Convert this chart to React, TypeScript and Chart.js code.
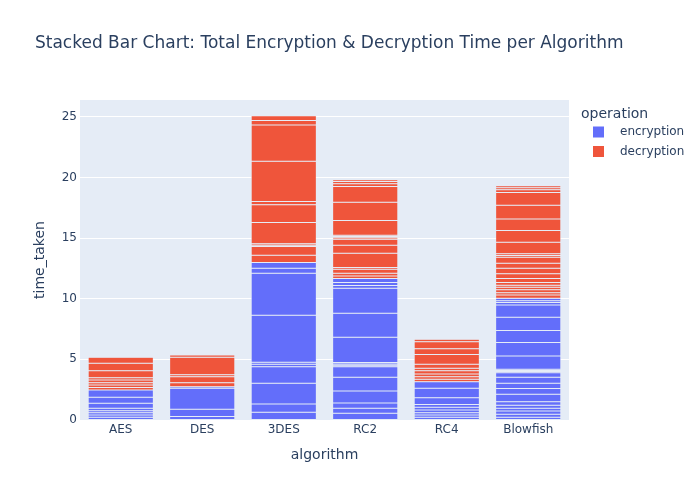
import React, { useEffect, useRef } from "react";
import { Chart, registerables } from "chart.js";

Chart.register(...registerables);

const algorithms = ["AES", "DES", "3DES", "RC2", "RC4", "Blowfish"];
const operations = ["encryption", "decryption"];
const yTicks = [0, 5, 10, 15, 20, 25];

// encryption time segments (stacked records) per algorithm
const encAES = [0.22, 0.19, 0.19, 0.17, 0.19, 0.42, 0.49, 0.61];
const encDES = [0.28, 0.6, 1.73, 0.14];
const enc3DES = [0.63, 0.69, 1.71, 1.37, 0.19, 0.17, 3.87, 3.47, 0.41, 0.47];
const encRC2 = [0.55, 0.41, 0.44, 0.99, 1.13, 0.88, 0.11, 0.11, 0.11, 2.09, 1.98, 2.07, 0.21, 0.25, 0.33];
const encRC4 = [0.22, 0.19, 0.19, 0.23, 0.22, 0.22, 0.57, 0.78, 0.54];
const encBlowfish = [0.22, 0.25, 0.27, 0.22, 0.25, 0.3, 0.61, 0.47, 0.44, 0.49, 0.38, 0.09, 0.1, 0.09, 1.1, 1.1, 0.99, 1.1, 1.02, 0.19, 0.16, 0.2];

// decryption time segments per algorithm
const decAES = [0.19, 0.22, 0.19, 0.22, 0.19, 0.58, 0.61, 0.49];
const decDES = [0.33, 0.49, 0.17, 1.43, 0.19];
const dec3DES = [0.61, 0.71, 0.11, 0.11, 1.76, 1.46, 0.27, 3.33, 2.97, 0.39, 0.38];
const decRC2 = [0.22, 0.22, 0.33, 0.14, 1.18, 0.66, 0.5, 0.11, 0.11, 0.11, 1.21, 1.51, 1.29, 0.22, 0.19, 0.14];
const decRC4 = [0.2, 0.21, 0.23, 0.27, 0.2, 0.33, 0.79, 0.49, 0.58, 0.2];
const decBlowfish = [0.27, 0.19, 0.23, 0.22, 0.16, 0.22, 0.33, 0.39, 0.46, 0.42, 0.49, 0.14, 0.14, 0.96, 0.96, 0.94, 1.15, 1.04, 0.23, 0.16, 0.17];

const encLists = [encAES, encDES, enc3DES, encRC2, encRC4, encBlowfish];
const decLists = [decAES, decDES, dec3DES, decRC2, decRC4, decBlowfish];

const COLORS: Record<string, string> = { encryption: "#636EFA", decryption: "#EF553B" };
const FONT = "'DejaVu Sans', Verdana, sans-serif";
const TEXT = "#2a3f5f";

function buildDatasets(lists: number[][], op: string) {
  const n = Math.max(...lists.map((l) => l.length));
  const out: any[] = [];
  for (let i = 0; i < n; i++) {
    out.push({
      label: op,
      data: lists.map((l) => (i < l.length ? l[i] : null)),
      backgroundColor: COLORS[op],
      borderColor: "#E5ECF6",
      borderWidth: 0.5,
      borderSkipped: false,
      stack: "total",
      categoryPercentage: 1,
      barPercentage: 0.8,
    });
  }
  return out;
}

const decorPlugin = {
  id: "decor",
  beforeDraw(chart: any) {
    const { ctx, chartArea } = chart;
    ctx.save();
    ctx.fillStyle = "#ffffff";
    ctx.fillRect(0, 0, chart.width, chart.height);
    ctx.fillStyle = "#E5ECF6";
    ctx.fillRect(chartArea.left, chartArea.top, chartArea.right - chartArea.left, chartArea.bottom - chartArea.top);
    ctx.restore();
  },
  afterDraw(chart: any) {
    const { ctx } = chart;
    ctx.save();
    ctx.fillStyle = TEXT;
    ctx.textBaseline = "middle";
    ctx.textAlign = "left";
    ctx.font = `17px ${FONT}`;
    ctx.fillText("Stacked Bar Chart: Total Encryption & Decryption Time per Algorithm", 35, 44);
    // legend
    ctx.font = `14px ${FONT}`;
    ctx.fillText("operation", 581, 114);
    ctx.font = `12px ${FONT}`;
    operations.forEach((op, i) => {
      const cy = 132 + i * 19.5;
      ctx.fillStyle = COLORS[op];
      ctx.fillRect(593, cy - 5.5, 11, 11);
      ctx.fillStyle = TEXT;
      ctx.fillText(op, 620, cy);
    });
    ctx.restore();
  },
};

export default function App() {
  const ref = useRef<HTMLCanvasElement | null>(null);
  useEffect(() => {
    if (!ref.current) return;
    const chart = new Chart(ref.current, {
      type: "bar",
      data: {
        labels: algorithms,
        datasets: [...buildDatasets(encLists, "encryption"), ...buildDatasets(decLists, "decryption")],
      },
      options: {
        animation: false,
        responsive: false,
        layout: { padding: { top: 100, right: 131, bottom: 0, left: 0 } },
        plugins: { legend: { display: false }, title: { display: false }, tooltip: { enabled: false } },
        scales: {
          x: {
            stacked: true,
            grid: { display: false, drawTicks: false },
            border: { display: false },
            ticks: { color: TEXT, font: { family: FONT, size: 12 }, padding: 3 },
            title: { display: true, text: "algorithm", color: TEXT, font: { family: FONT, size: 14 }, padding: { top: 0, bottom: 36.6 } },
            afterFit(scale: any) {
              scale.height = 80;
            },
          },
          y: {
            stacked: true,
            min: 0,
            max: 26.38,
            afterBuildTicks(scale: any) {
              scale.ticks = yTicks.map((v) => ({ value: v }));
            },
            grid: { color: "#ffffff", lineWidth: 1, drawTicks: false },
            border: { display: false },
            ticks: { color: TEXT, font: { family: FONT, size: 12 }, padding: 3 },
            title: { display: true, text: "time_taken", color: TEXT, font: { family: FONT, size: 14 }, padding: { top: 31.6, bottom: 0 } },
            afterFit(scale: any) {
              scale.width = 80;
            },
          },
        },
      },
      plugins: [decorPlugin],
    } as any);
    return () => chart.destroy();
  }, []);
  return (
    <div style={{ position: "fixed", left: 0, top: 0, width: 700, height: 500 }}>
      <canvas ref={ref} width={700} height={500} />
    </div>
  );
}
